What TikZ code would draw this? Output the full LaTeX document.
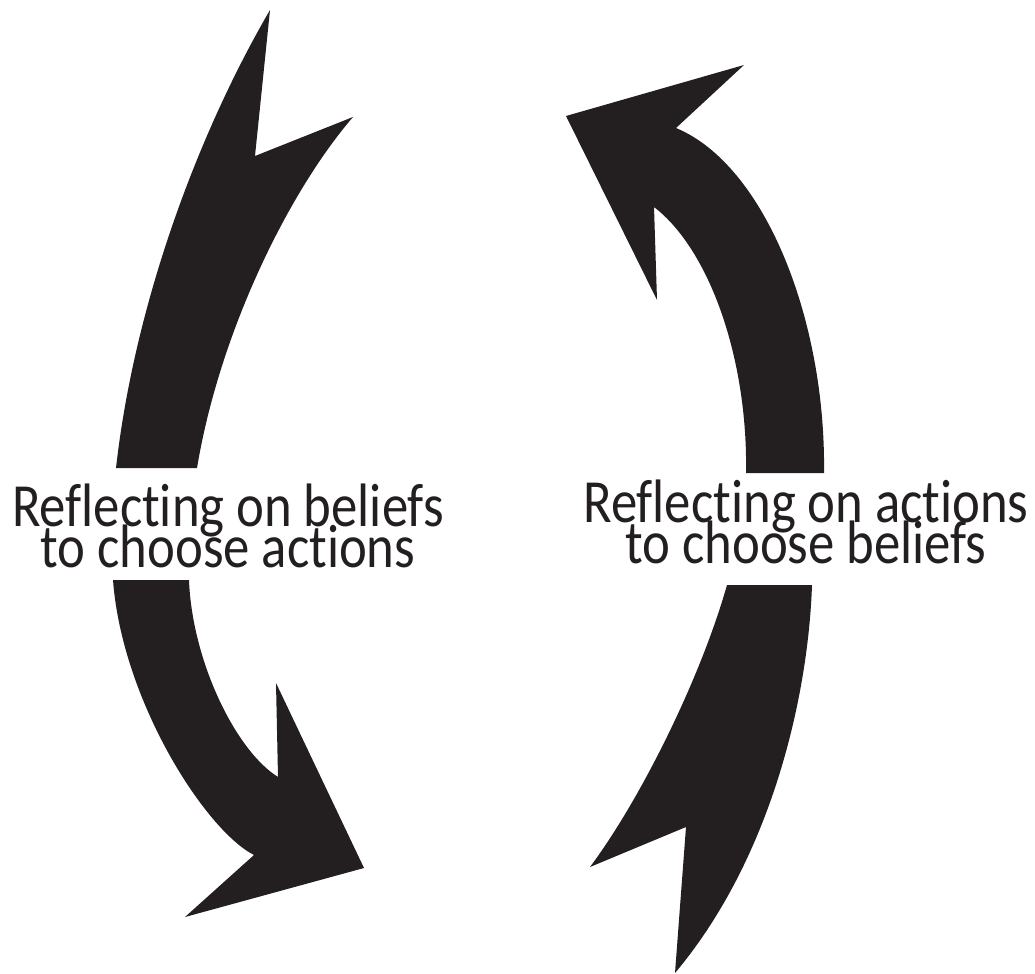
\documentclass[tikz,border=0pt]{standalone}
\usepackage{fontspec}
\setmainfont{Carlito}[Ligatures=NoCommon]
\definecolor{ink}{HTML}{231F20}
\newcommand{\narrowtext}[1]{\scalebox{0.86}[1]{#1}}
\lineskiplimit=-200pt
\lineskip=0pt
\begin{document}
\begin{tikzpicture}[x=0.75pt,y=-0.75pt,
  arrowshape/.style={fill=ink,draw=none},
  label/.style={text=ink,align=center,anchor=base,inner sep=0pt,
    font=\fontsize{46}{30.75}\selectfont}]
\useasboundingbox (0,0) rectangle (1035,974);
% upper-left tail
\path[arrowshape] (116,468) .. controls (135,300) and (200,130) .. (270,10)
  -- (255,156) -- (353,117)
  .. controls (290,190) and (220,330) .. (197,468) -- cycle;
% lower-left head
\path[arrowshape] (113,580) -- (189,580)
  .. controls (192,660) and (235,750) .. (278,777)
  -- (276,683) -- (364,868) -- (185,917) -- (254,855)
  .. controls (205,830) and (122,700) .. (113,580) -- cycle;
% upper-right head
\path[arrowshape] (566,116) -- (744,65) -- (676,128)
  .. controls (765,165) and (826,320) .. (824,473)
  -- (746,473)
  .. controls (748,360) and (710,250) .. (654,207)
  -- (657,300) -- cycle;
% lower-right tail
\path[arrowshape] (727,585) -- (812,585)
  .. controls (808,700) and (770,860) .. (675,973)
  -- (686,827) -- (590,867)
  .. controls (640,800) and (700,680) .. (727,585) -- cycle;
% labels
\node[label] (left) at (228,567) {\narrowtext{Reflecting on beliefs}\\ \narrowtext{to choose actions}};
\node[label] (right) at (806,563) {\narrowtext{Reflecting on actions}\\ \narrowtext{to choose beliefs}};
\end{tikzpicture}
\end{document}
